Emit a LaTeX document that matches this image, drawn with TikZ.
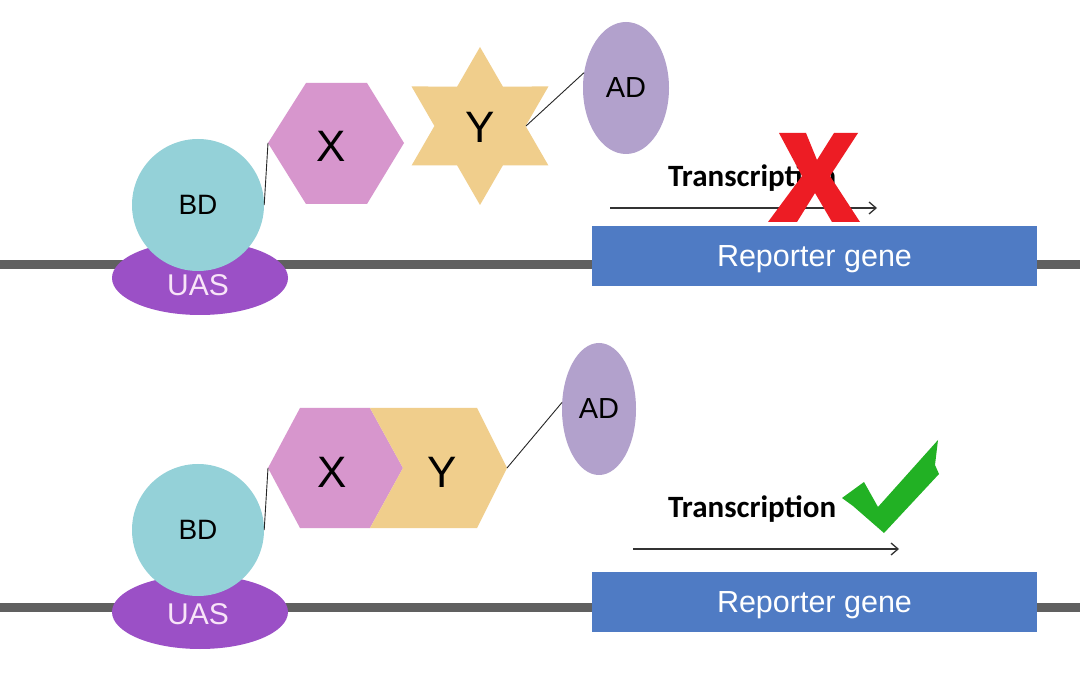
\documentclass[tikz,border=0pt]{standalone}
\usepackage{fontspec}
\setmainfont{Liberation Sans}
\newfontfamily\carl{Carlito}
\usetikzlibrary{shapes.geometric,arrows.meta}
\definecolor{dnagray}{RGB}{96,96,96}
\definecolor{uascol}{RGB}{155,80,198}
\definecolor{uastext}{RGB}{248,228,248}
\definecolor{bdcol}{RGB}{148,209,216}
\definecolor{xcol}{RGB}{215,150,205}
\definecolor{ycol}{RGB}{240,206,140}
\definecolor{adcol}{RGB}{178,161,204}
\definecolor{repcol}{RGB}{79,123,196}
\definecolor{crossred}{RGB}{237,28,36}
\definecolor{checkgreen}{RGB}{34,177,36}
\begin{document}
\begin{tikzpicture}[x=1pt,y=-1pt,
  dna/.style={draw=dnagray, line width=9pt},
  uas/.style={ellipse, fill=uascol, minimum width=176pt, minimum height=74pt, inner sep=0},
  uaslbl/.style={text=uastext, inner sep=0, anchor=base, font=\fontsize{30}{32}\selectfont},
  bdnode/.style={circle, fill=bdcol, minimum size=132pt, inner sep=0, font=\fontsize{28}{30}\selectfont},
  adnode/.style={ellipse, fill=adcol, inner sep=0, font=\fontsize{29}{31}\selectfont},
  reporter/.style={rectangle, fill=repcol, minimum width=445pt, minimum height=60pt, inner sep=0},
  replbl/.style={text=white, inner sep=0, anchor=base, font=\fontsize{30.5}{32}\selectfont},
  link/.style={draw=black!85, line width=0.9pt},
  tx/.style={font=\carl\bfseries\fontsize{31}{33}\selectfont, anchor=base west, inner sep=0},
  arr/.style={-{Straight Barb[length=7pt,width=12pt]}, line width=1.3pt, draw=black!80},
  lbl/.style={font=\fontsize{44}{46}\selectfont, inner sep=0}]
\useasboundingbox (0,0) rectangle (1080,676);
\fill[white] (0,0) rectangle (1080,676);

% ===== Top panel =====
\draw[dna] (0,265) -- (1080,265);
\node[uas] (uas1) at (200,278) {};
\node[uaslbl] (uast1) at (198,296) {UAS};
\node[bdnode] (bd1) at (198,205) {BD};
\fill[xcol] (268,143) coordinate (x1l) -- (306,83) -- (367,83) -- (404,143) -- (367,204) -- (306,204) -- cycle;
\node[lbl] (x1) at (331,146) {X};
\begin{scope}[shift={(480,126)}]
\fill[ycol] (90:79) -- (120:45.6) -- (150:79) -- (180:45.6) -- (210:79) -- (240:45.6)
  -- (270:79) -- (300:45.6) -- (330:79) -- (0:45.6) -- (30:79) -- (60:45.6) -- cycle;
\end{scope}
\coordinate (y1r) at (526,126);
\node[lbl] (y1) at (480,127) {Y};
\node[adnode, minimum width=86pt, minimum height=132pt] (ad1) at (626,88) {AD};
\draw[link] (bd1.east) -- (x1l);
\draw[link] (y1r) -- (ad1.160);
\node[reporter] (rep1) at (814.5,256) {};
\node[replbl] (rept1) at (814.5,267) {Reporter gene};
\node[tx] (tr1) at (668,187) {Transcription};
\coordinate (a1s) at (610,208);
\coordinate (a1e) at (877,208);
\draw[arr] (a1s) -- (a1e);
\fill[crossred] (779,133) -- (806,133) -- (817,160) -- (834,133) -- (858,133) -- (830,176)
  -- (860,222) -- (832,222) -- (815,193) -- (797,222) -- (768,222) -- (802,176) -- cycle;

% ===== Bottom panel =====
\draw[dna] (0,607) -- (1080,607);
\node[uas] (uas2) at (200,612) {};
\node[uaslbl] (uast2) at (198,624) {UAS};
\node[bdnode] (bd2) at (198,530) {BD};
\fill[xcol] (268,468) coordinate (x2l) -- (300,408) -- (370,408) -- (403,468) -- (370,528) -- (300,528) -- cycle;
\fill[ycol] (370,408) -- (477,408) -- (507,468) coordinate (y2r) -- (477,528) -- (370,528) -- (403,468) -- cycle;
\node[lbl] (x2) at (332,472) {X};
\node[lbl] (y2) at (442,472) {Y};
\node[adnode, minimum width=74pt, minimum height=132pt] (ad2) at (599,409) {AD};
\draw[link] (bd2.east) -- (x2l);
\draw[link] (y2r) -- (ad2.170);
\node[reporter] (rep2) at (814.5,602) {};
\node[replbl] (rept2) at (814.5,612) {Reporter gene};
\node[tx] (tr2) at (668,518) {Transcription};
\coordinate (a2s) at (633,549);
\coordinate (a2e) at (899,549);
\draw[arr] (a2s) -- (a2e);
\fill[checkgreen] (938,440) -- (935,465) -- (939,474) -- (884,533) -- (853,506) -- (842,498)
  -- (864,482) -- (878,507) -- cycle;
\end{tikzpicture}
\end{document}
